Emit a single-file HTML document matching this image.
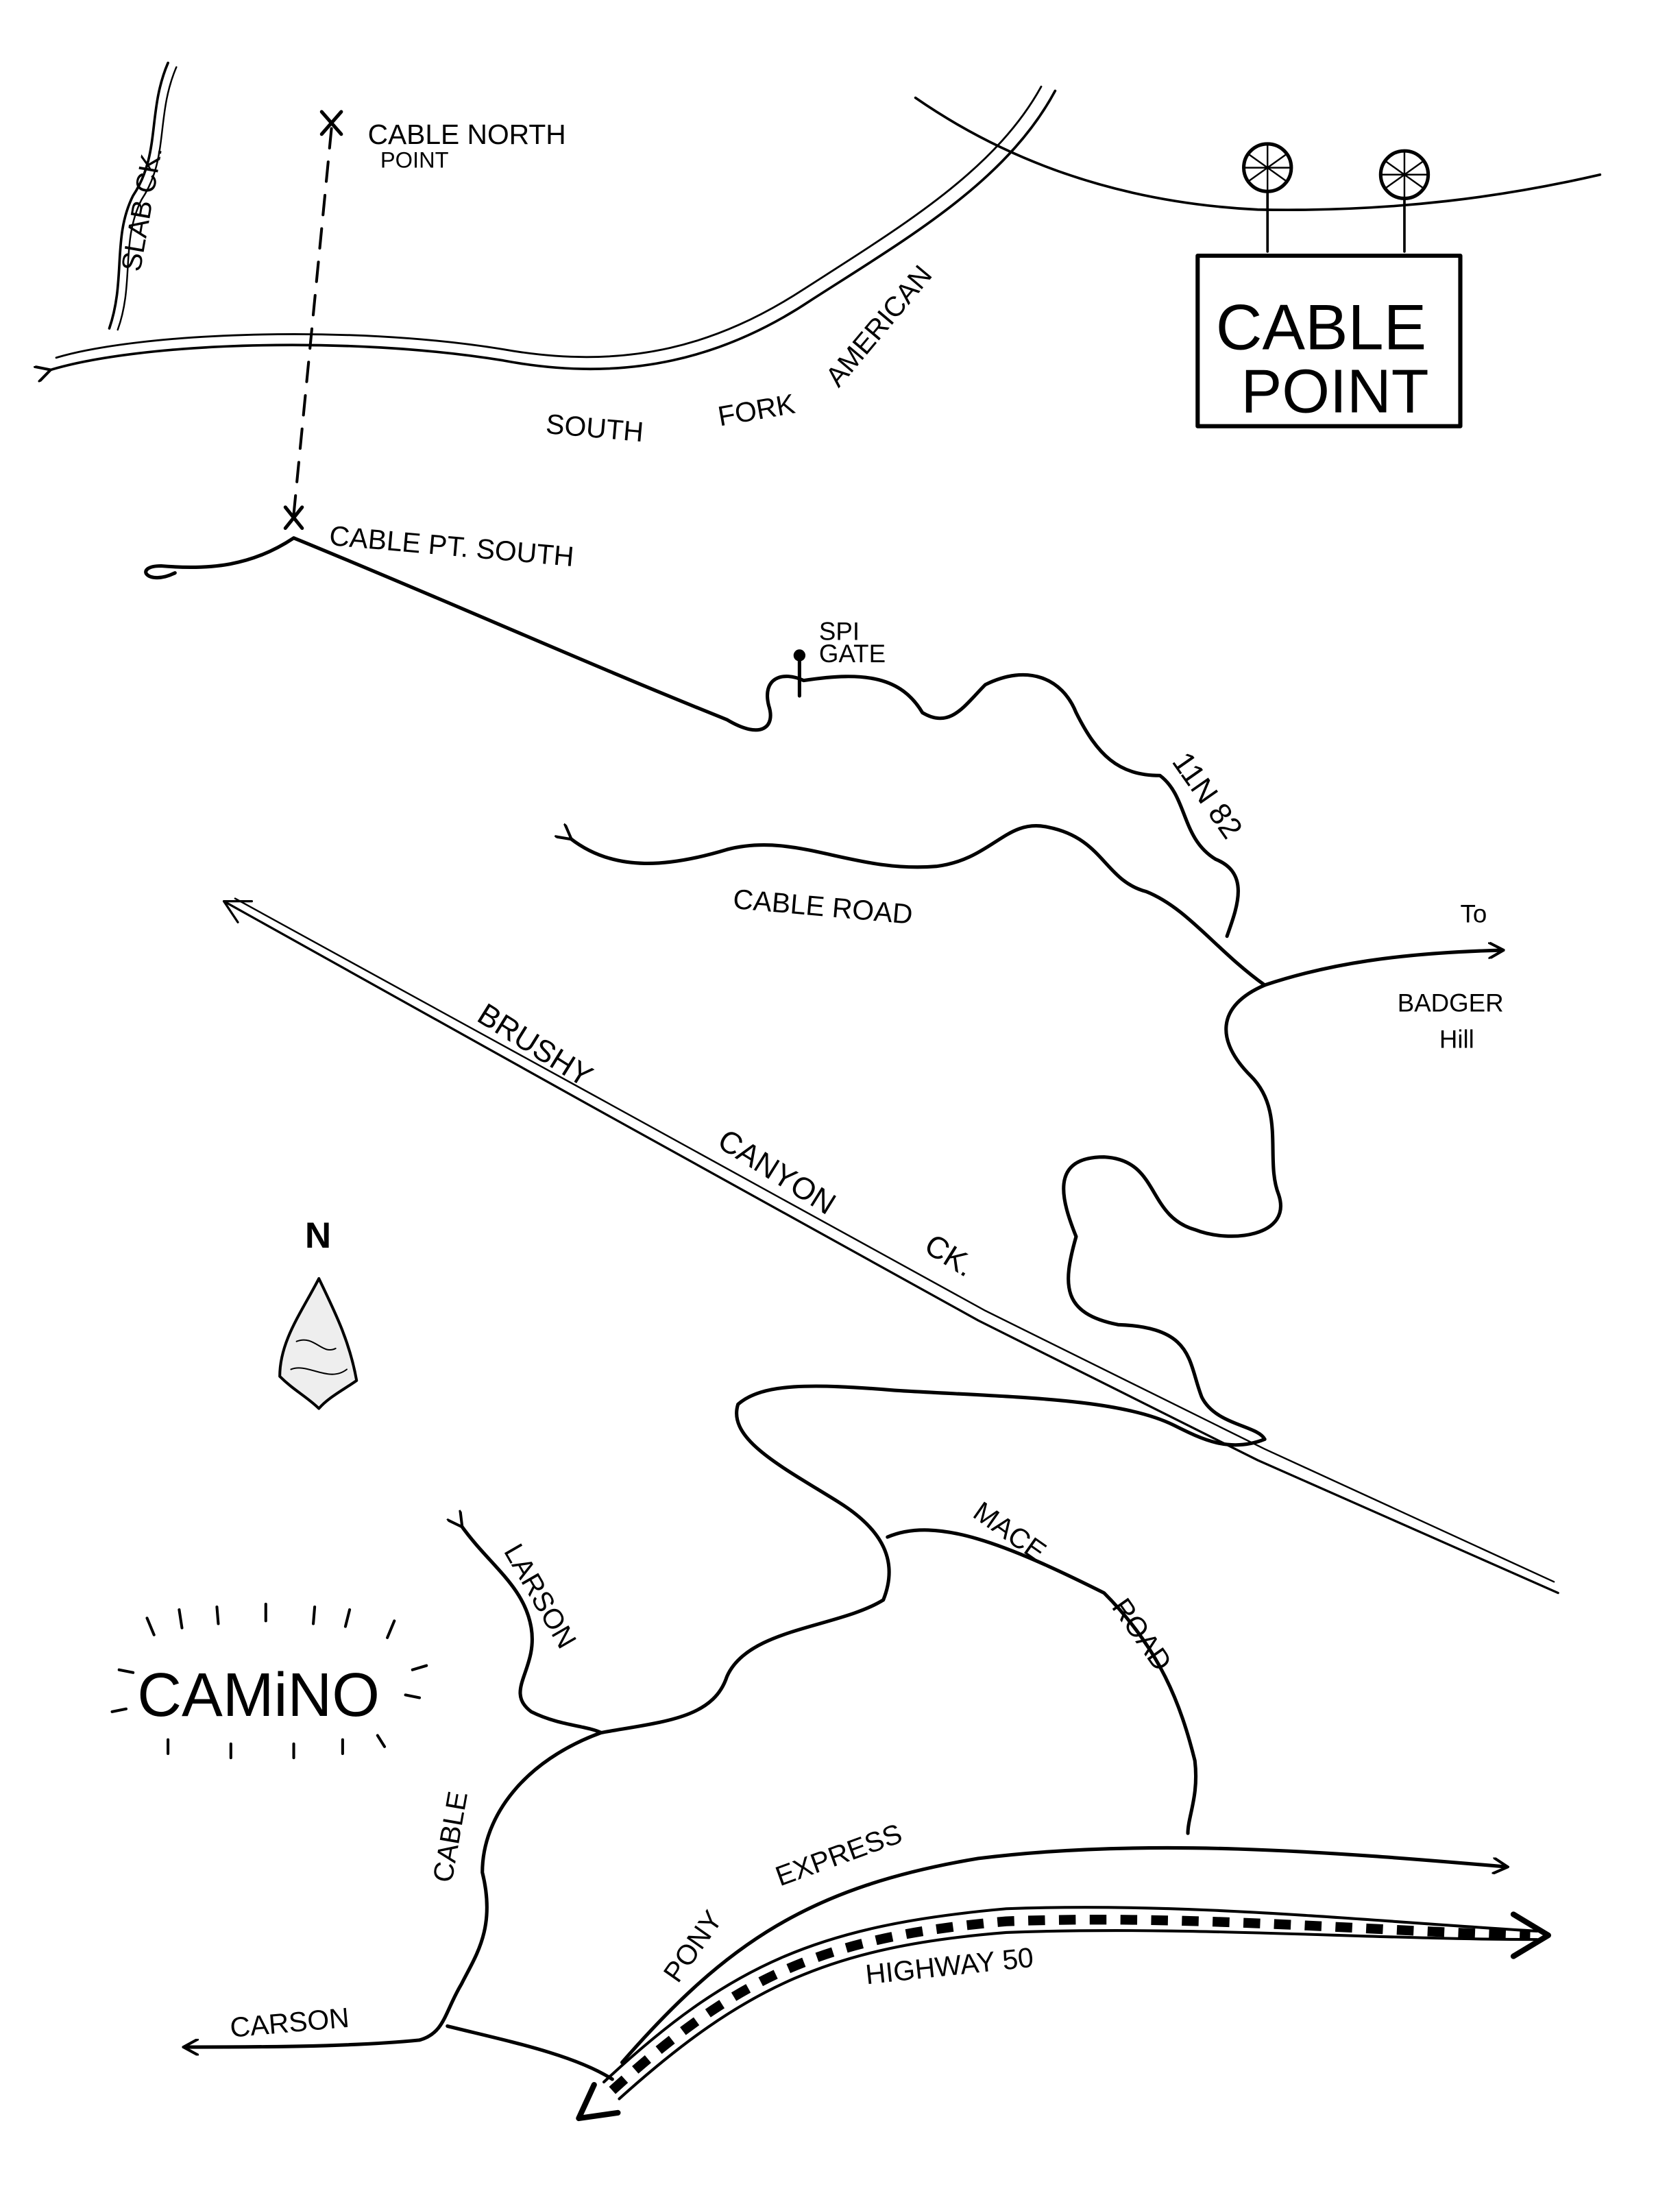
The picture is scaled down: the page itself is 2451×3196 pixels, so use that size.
<!DOCTYPE html>
<html><head><meta charset="utf-8"><style>
html,body{margin:0;padding:0;background:#fff;}
svg{display:block;}
text{font-family:"Liberation Sans",sans-serif;fill:#000;}
</style></head><body>
<svg width="2451" height="3196" viewBox="0 0 1202 1568" xmlns="http://www.w3.org/2000/svg">
<defs>
<marker id="a" markerWidth="12" markerHeight="12" refX="10" refY="6" orient="auto" markerUnits="userSpaceOnUse"><path d="M0,0 L11,6 L0,12" fill="none" stroke="#000" stroke-width="2"/></marker>
</defs>
<rect width="1202" height="1568" fill="#fff"/>
<g fill="none" stroke="#000" stroke-width="2.5" stroke-linecap="round" stroke-linejoin="round">
<path d="M120,45 C105,80 115,110 95,140 C80,170 90,200 78,235" stroke-width="1.8"/>
<path d="M126,48 C111,83 121,113 101,143 C86,173 96,203 84,236" stroke-width="1.2"/>
<path d="M35,265 C100,245 250,240 360,258 C450,275 520,255 580,215 C650,170 720,130 755,65" stroke-width="1.8" marker-start="url(#a)"/>
<path d="M40,256 C100,238 250,232 360,250 C450,266 515,246 575,207 C645,162 712,122 745,62" stroke-width="1.4"/>
<path d="M655,70 C720,115 800,145 900,150 C1000,152 1080,140 1145,125" stroke-width="1.8"/>
<circle cx="907" cy="120" r="17"/><path d="M893,110L921,130M893,130L921,110M907,103V137M890,120H924" stroke-width="1.2"/>
<circle cx="1005" cy="125" r="17"/><path d="M991,115L1019,135M991,135L1019,115M1005,108V142M988,125H1022" stroke-width="1.2"/>
<path d="M907,137V180M1005,142V180" stroke-width="1.8"/>
<rect x="857" y="183" width="188" height="122" stroke-width="3"/>
<path d="M237,92 L210,368" stroke-dasharray="14,10" stroke-width="2"/>
<path d="M230,80L244,96M244,80L230,96" stroke-width="2.5"/>
<path d="M204,363L216,378M216,363L204,378" stroke-width="2.5"/>
<path d="M125,410 C105,420 95,405 115,405 C150,408 180,405 210,385 C320,430 420,475 520,515 C545,530 555,520 550,505 C545,485 560,480 575,487 C620,480 645,485 660,510 C680,522 690,505 705,490 C735,475 760,485 770,510 C785,540 800,555 830,555 C850,570 845,600 870,615 C895,625 885,650 878,670"/>
<path d="M572,470V498" stroke-width="2.5"/><circle cx="572" cy="469" r="3" fill="#000"/>
<path d="M408,600 C440,625 480,620 520,608 C570,595 610,625 670,620 C710,615 720,585 750,592 C790,600 790,630 820,638 C850,650 870,680 905,705" marker-start="url(#a)"/>
<path d="M905,705 C950,690 1000,682 1075,680" marker-end="url(#a)"/>
<path d="M905,705 C870,720 870,745 895,770 C920,795 905,830 915,855 C925,885 880,890 855,880 C820,870 830,830 790,828 C750,828 760,860 770,885 C760,920 760,940 800,948 C855,950 850,975 860,1000 C870,1020 900,1020 905,1030 C880,1040 860,1030 840,1020 C800,1000 720,1000 640,995 C580,990 545,990 528,1005 C520,1030 560,1050 600,1075 C640,1100 640,1125 632,1145 C600,1165 535,1165 520,1200 C510,1230 475,1232 430,1240 C375,1260 345,1300 345,1340 C355,1380 340,1400 330,1420 C318,1440 318,1455 300,1460 C250,1465 180,1465 132,1465" marker-end="url(#a)"/>
<path d="M635,1100 C670,1085 720,1105 790,1140 C830,1180 845,1220 855,1260 C858,1285 850,1300 850,1312"/>
<path d="M330,1092 C350,1120 375,1135 380,1165 C385,1195 360,1210 380,1225 C400,1235 420,1235 430,1240" marker-start="url(#a)"/>
<path d="M320,1450 C360,1460 410,1470 438,1488"/>
<path d="M445,1476 C520,1390 580,1350 700,1330 C820,1315 950,1325 1078,1336" marker-end="url(#a)"/>
<path d="M432,1490 C522,1406 585,1378 720,1366 C850,1361 980,1375 1100,1382" stroke-width="2"/>
<path d="M443,1502 C533,1421 595,1393 720,1383 C850,1378 980,1388 1100,1388" stroke-width="2"/>
<path d="M438,1496 C528,1414 590,1386 720,1375 C850,1370 980,1382 1095,1385" stroke-width="7" stroke-dasharray="12,10" stroke-linecap="butt"/>
<path d="M425,1492 L414,1516 L442,1512 M1083,1370 L1108,1385 L1083,1400" stroke-width="4"/>
<path d="M160,645 L420,790 L700,945 L900,1045 L1115,1140" stroke-width="1.6"/>
<path d="M168,643 L425,784 L705,938 L905,1037 L1112,1132" stroke-width="1.2"/>
<path d="M160,645 L180,645 M160,645 L170,660" stroke-width="1.6"/>
<path d="M228,915 C215,940 200,960 200,985 C210,995 220,1000 228,1008 C235,1000 245,995 255,988 C250,960 240,940 228,915Z" stroke-width="2" fill="#eee"/>
<path d="M212,960 C225,955 230,970 240,965 M208,980 C220,975 235,990 248,980" stroke-width="1"/>
<path d="M105,1158 L110,1170 M128,1152L130,1165 M155,1150L156,1162 M190,1148L190,1160 M225,1150L224,1162 M250,1152L247,1164 M282,1160L277,1172 M305,1192L295,1195 M300,1215L290,1213 M85,1195L95,1197 M80,1225L90,1223 M120,1255L120,1245 M165,1258L165,1248 M210,1258L210,1248 M245,1255L245,1245 M275,1250L270,1242" stroke-width="2"/>
</g>
<g font-size="20">
<text x="263" y="103">CABLE NORTH</text>
<text x="272" y="120" font-size="16">POINT</text>
<text x="0" y="0" transform="translate(100,195) rotate(-80)" font-size="20">SLAB CK.</text>
<text x="870" y="250" font-size="46">CABLE</text>
<text x="888" y="295" font-size="44">POINT</text>
<text x="390" y="310" transform="rotate(5 390 310)">SOUTH</text>
<text x="515" y="305" transform="rotate(-10 515 305)">FORK</text>
<text x="600" y="278" transform="rotate(-50 600 278)">AMERICAN</text>
<text x="235" y="390" transform="rotate(5 235 390)">CABLE PT. SOUTH</text>
<text x="586" y="458" font-size="18">SPI</text>
<text x="586" y="474" font-size="18">GATE</text>
<text x="838" y="545" transform="rotate(55 838 545)" font-size="22">11N 82</text>
<text x="524" y="650" transform="rotate(5 524 650)">CABLE ROAD</text>
<text x="1045" y="660" font-size="18">To</text>
<text x="1000" y="724" font-size="18">BADGER</text>
<text x="1030" y="750" font-size="18">Hill</text>
<text x="340" y="730" transform="rotate(32 340 730)" font-size="22">BRUSHY</text>
<text x="512" y="820" transform="rotate(32 512 820)" font-size="22">CANYON</text>
<text x="660" y="895" transform="rotate(32 660 895)" font-size="22">CK.</text>
<text x="218" y="893" font-size="26" font-weight="bold">N</text>
<text x="360" y="1110" transform="rotate(60 360 1110)">LARSON</text>
<text x="695" y="1085" transform="rotate(35 695 1085)">MACE</text>
<text x="795" y="1150" transform="rotate(55 795 1150)">ROAD</text>
<text x="98" y="1228" font-size="44">CAMiNO</text>
<text x="0" y="0" transform="translate(323,1348) rotate(-80)">CABLE</text>
<text x="165" y="1458" transform="rotate(-5 165 1458)">CARSON</text>
<text x="485" y="1420" transform="rotate(-55 485 1420)">PONY</text>
<text x="558" y="1350" transform="rotate(-20 558 1350)">EXPRESS</text>
<text x="620" y="1420" transform="rotate(-6 620 1420)">HIGHWAY 50</text>
</g>
</svg>
</body></html>
